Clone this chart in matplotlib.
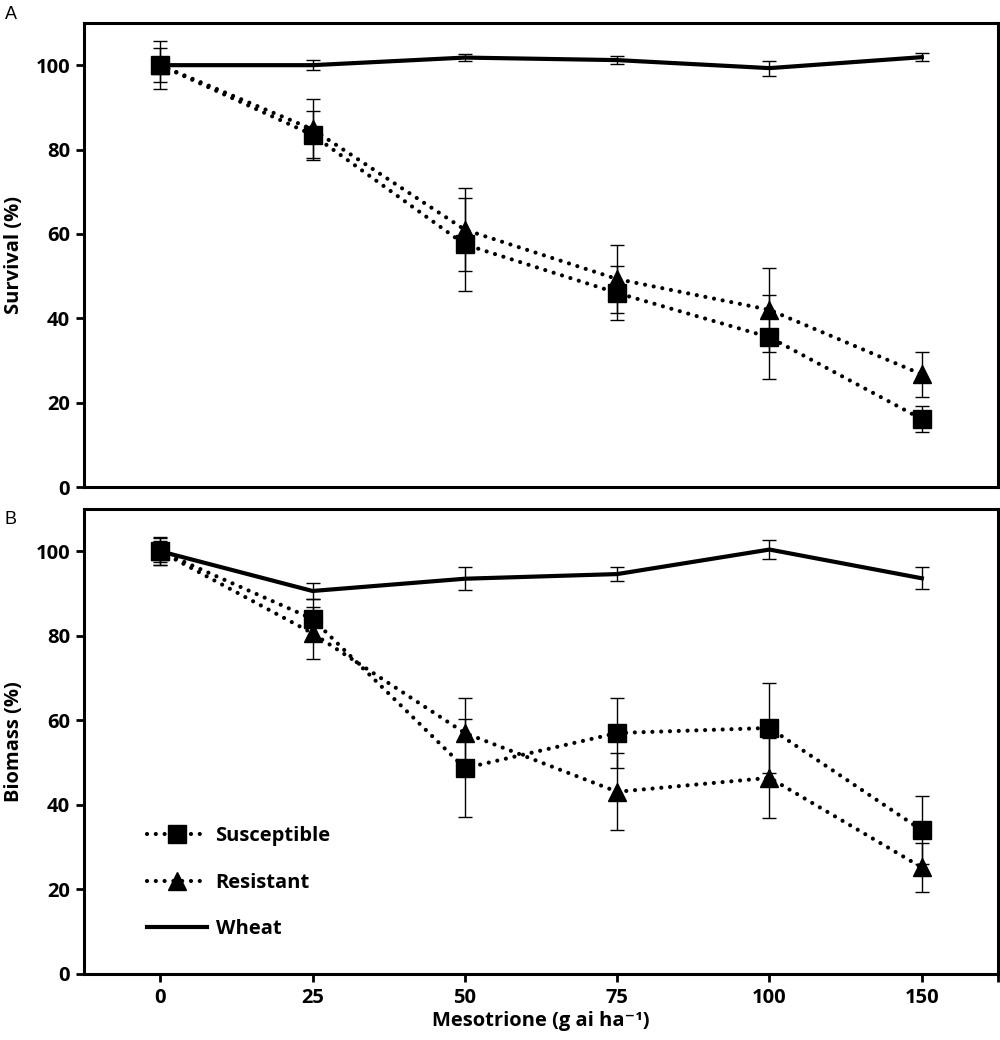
import matplotlib
matplotlib.use("Agg")
import matplotlib.pyplot as plt

# ----------------------------
# DATA
# ----------------------------
doses = ["0", "25", "50", "75", "100", "150"]

surv_susceptible = [100, 83.5, 57.5, 46.0, 35.5, 16.1]
surv_susceptible_err = [5.7, 5.6, 11.0, 6.5, 10.0, 3.0]
surv_resistant = [100, 84.8, 61.0, 49.3, 42.0, 26.7]
surv_resistant_err = [4.0, 7.2, 9.8, 8.0, 9.9, 5.3]
surv_wheat = [100, 100, 101.8, 101.2, 99.3, 101.9]
surv_wheat_err = [0.0, 1.2, 0.8, 0.9, 1.8, 0.9]

bio_susceptible = [100, 84.0, 48.7, 57.0, 58.2, 34.0]
bio_susceptible_err = [3.2, 4.6, 11.5, 8.2, 10.6, 8.0]
bio_resistant = [100, 80.6, 57.0, 43.1, 46.4, 25.2]
bio_resistant_err = [2.5, 6.1, 8.2, 9.1, 9.5, 5.7]
bio_wheat = [100, 90.6, 93.5, 94.6, 100.4, 93.6]
bio_wheat_err = [3.3, 2.0, 2.7, 1.6, 2.2, 2.6]

FONT = ["Open Sans", "DejaVu Sans"]
FS = 14.5
DOT = (0, (0.01, 2.1))


def draw_panel(ax, susc, susc_err, res, res_err, wheat, wheat_err, ylabel):
    x = list(range(len(doses)))
    err_kw = dict(fmt="none", ecolor="black", elinewidth=1.0, capsize=5, capthick=1.0, zorder=2)
    ax.errorbar(x, wheat, yerr=wheat_err, **err_kw)
    ax.errorbar(x, res, yerr=res_err, **err_kw)
    ax.errorbar(x, susc, yerr=susc_err, **err_kw)

    ax.plot(x, wheat, color="black", lw=3.0, solid_joinstyle="miter", zorder=3, label="Wheat")
    ax.plot(x, res, color="black", lw=3.0, linestyle=DOT, dash_capstyle="round",
            marker="^", markersize=13.5, zorder=4, label="Resistant")
    ax.plot(x, susc, color="black", lw=3.0, linestyle=DOT, dash_capstyle="round",
            marker="s", markersize=12.5, zorder=5, label="Susceptible")

    ax.set_xlim(-0.5, 5.5)
    ax.set_ylim(0, 110)
    ax.set_yticks([0, 20, 40, 60, 80, 100])
    ax.set_ylabel(ylabel, fontsize=FS, fontweight="bold", family=FONT, labelpad=8)
    for s in ax.spines.values():
        s.set_linewidth(2.2)
    ax.tick_params(axis="y", direction="out", length=6, width=2, labelsize=FS, pad=4)
    for lab in ax.get_yticklabels():
        lab.set_fontweight("bold")
        lab.set_family(FONT)


fig = plt.figure(figsize=(10, 10.4), dpi=100)
ax_a = fig.add_axes([0.084, 0.5317, 0.914, 0.4462])
ax_b = fig.add_axes([0.084, 0.0635, 0.914, 0.4471])

draw_panel(ax_a, surv_susceptible, surv_susceptible_err, surv_resistant, surv_resistant_err,
           surv_wheat, surv_wheat_err, "Survival (%)")
draw_panel(ax_b, bio_susceptible, bio_susceptible_err, bio_resistant, bio_resistant_err,
           bio_wheat, bio_wheat_err, "Biomass (%)")

# panel A: no x ticks
ax_a.set_xticks([])

# panel B: category ticks plus the one at the right edge
ax_b.set_xticks(list(range(len(doses))) + [5.5])
ax_b.set_xticklabels(doses + [""], fontsize=FS, fontweight="bold", family=FONT)
ax_b.tick_params(axis="x", direction="out", length=6, width=2, pad=4)
ax_b.set_xlabel("Mesotrione (g ai ha\u207b\u00b9)", fontsize=FS, fontweight="bold",
                family=FONT, labelpad=2)

handles, labels = ax_b.get_legend_handles_labels()
order = [2, 1, 0]
leg = ax_b.legend([handles[i] for i in order], [labels[i] for i in order],
                  loc="lower left", bbox_to_anchor=(0.058, 0.054), frameon=False,
                  handlelength=3.0, handletextpad=0.4, labelspacing=1.3, borderpad=0,
                  prop={"family": FONT, "weight": "bold", "size": FS})

fig.text(0.005, 0.986, "A", fontsize=13, family="Liberation Sans", va="center", ha="left")
fig.text(0.005, 0.5, "B", fontsize=13, family="Liberation Sans", va="center", ha="left")

fig.savefig("out.png", dpi=100)
plt.close(fig)
